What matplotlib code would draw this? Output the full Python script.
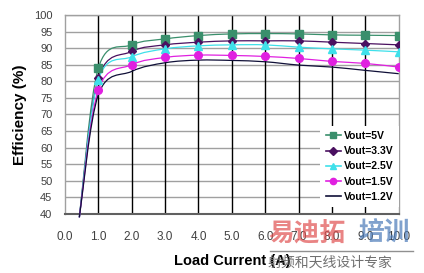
import matplotlib
matplotlib.use("Agg")
import matplotlib.pyplot as plt
import numpy as np
from matplotlib.lines import Line2D
from matplotlib.path import Path
from matplotlib.patches import PathPatch

plt.rcParams["font.family"] = ["Liberation Sans", "DejaVu Sans"]

# Data
load_current = [0.43, 1.0, 2.0, 3.0, 4.0, 5.0, 6.0, 7.0, 8.0, 9.0, 10.0]
eff_5v0 = [39, 84.0, 91.0, 92.8, 93.8, 94.3, 94.4, 94.3, 94.0, 93.9, 93.8]
eff_3v3 = [39, 81.0, 89.0, 91.0, 91.8, 92.2, 92.2, 92.2, 91.8, 91.4, 91.0]
eff_2v5 = [39, 80.5, 87.4, 89.8, 90.7, 91.0, 91.0, 90.3, 89.8, 89.4, 88.9]
eff_1v5 = [39, 77.5, 85.0, 87.2, 87.9, 87.8, 87.5, 86.9, 86.0, 85.4, 84.3]
eff_1v2 = [39, 76.0, 83.0, 85.6, 86.4, 86.3, 85.9, 84.9, 84.3, 83.3, 82.3]

series_labels = ["Vout=5V", "Vout=3.3V", "Vout=2.5V", "Vout=1.5V", "Vout=1.2V"]
series_values = [eff_5v0, eff_3v3, eff_2v5, eff_1v5, eff_1v2]
series_colors = ["#3a8f6c", "#4a1060", "#3fe0ea", "#e020e0", "#101038"]
series_markers = ["s", "D", "^", "o", None]

x_ticks = np.arange(0, 11, 1.0)
y_ticks = np.arange(40, 101, 5)


def smooth_path(xs, ys):
    """Excel-like smoothed line through the points (cubic Bezier segments)."""
    pts = np.column_stack([xs, ys]).astype(float)
    n = len(pts)
    verts = [pts[0]]
    codes = [Path.MOVETO]
    for i in range(n - 1):
        p0 = pts[i - 1] if i > 0 else pts[i]
        p1 = pts[i]
        p2 = pts[i + 1]
        p3 = pts[i + 2] if i + 2 < n else pts[i + 1]
        verts += [p1 + (p2 - p0) / 6, p2 - (p3 - p1) / 6, p2]
        codes += [Path.CURVE4] * 3
    return Path(verts, codes)


fig = plt.figure(figsize=(4.24, 2.73), dpi=100)
ax = fig.add_axes([65 / 424, 1 - 214 / 273, (398.7 - 65) / 424, 199 / 273])

# Grid: gray horizontal, black vertical
for y in y_ticks[1:]:
    ax.axhline(y, color="#a0a0a0", linewidth=1.0, zorder=1)
for x in x_ticks[1:-1]:
    ax.axvline(x, color="black", linewidth=1.0, zorder=1)

handles = []
for label, values, color, marker in zip(series_labels, series_values,
                                         series_colors, series_markers):
    patch = PathPatch(smooth_path(load_current, values), facecolor="none",
                      edgecolor=color, linewidth=0.9, zorder=3, clip_on=False)
    ax.add_patch(patch)
    if marker is not None:
        ax.plot(load_current[1:], values[1:], linestyle="none", marker=marker,
                markersize=4.5 if marker == "D" else 5.5, color=color, zorder=4)
    handles.append(Line2D([], [], color=color, linewidth=1.2, marker=marker,
                          markersize=4.5))

ax.set_xlim(0, 10)
ax.set_ylim(40, 100)
ax.set_xticks(x_ticks)
ax.set_xticklabels([f"{v:.1f}" for v in x_ticks], fontsize=8.5, color="#404040")
ax.set_yticks(y_ticks)
ax.set_yticklabels([f"{v:d}" for v in y_ticks], fontsize=8, color="#404040")
ax.tick_params(axis="x", length=0, pad=12)
ax.tick_params(axis="y", length=0, pad=9)

for side in ["top", "right", "left"]:
    ax.spines[side].set_color("#a0a0a0")
    ax.spines[side].set_linewidth(1.0)
ax.spines["bottom"].set_color("#606060")
ax.spines["bottom"].set_linewidth(1.5)

ax.set_xlabel("Load Current (A)", fontsize=10.5, fontweight="bold", labelpad=8)
ax.set_ylabel("Efficiency (%)", fontsize=11, fontweight="bold", labelpad=5)

leg = ax.legend(handles, series_labels, loc="lower right",
                bbox_to_anchor=(1.0, 0.035), borderaxespad=0,
                prop={"size": 7.5, "weight": "bold"}, handlelength=1.5,
                handletextpad=0.25, labelspacing=0.5, fancybox=False,
                framealpha=1.0, borderpad=0.5)
leg.get_frame().set_edgecolor("white")
leg.get_frame().set_linewidth(0)
leg.set_zorder(5)

# Watermark in the lower right corner
cjk = ["Noto Sans CJK SC", "DejaVu Sans"]
fig.text(268 / 424, 1 - 233 / 273, "易迪拓", family=cjk, fontsize=18.5,
         fontweight="bold", color="#e05050", alpha=0.7, va="center", ha="left")
fig.text(358 / 424, 1 - 233 / 273, "培训", family=cjk, fontsize=18.5,
         fontweight="bold", color="#4a7ab8", alpha=0.7, va="center", ha="left")
fig.add_artist(Line2D([270 / 424, 413 / 424], [1 - 251 / 273, 1 - 251 / 273],
                      color="#909090", linewidth=1.0))
fig.text(268 / 424, 1 - 263 / 273, "射频和天线设计专家", family=cjk, fontsize=10,
         color="#707070", va="center", ha="left")

fig.savefig("out.png", dpi=100)
